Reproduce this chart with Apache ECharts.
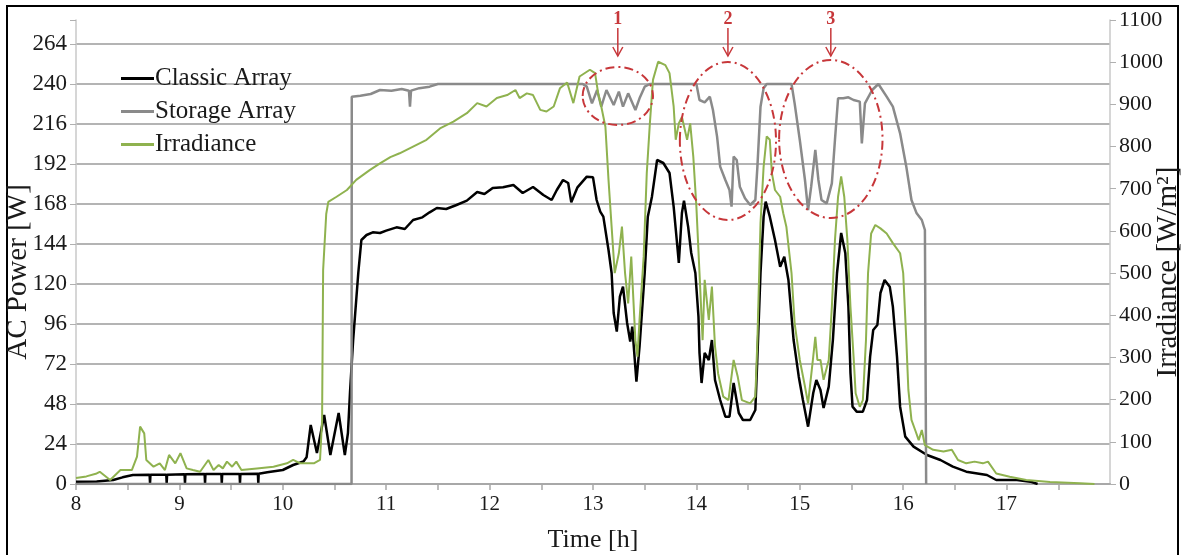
<!DOCTYPE html>
<html lang="en">
<head>
<meta charset="utf-8">
<title>AC Power / Irradiance</title>
<style>
  *{padding:0;margin:0;}
  html,body{width:100%;height:100%;background:#fff;}
  #chart{width:1184px;height:555px;}
</style>
</head>
<body>
<div id="chart"></div>
<script src="https://cdn.jsdelivr.net/npm/echarts@6/dist/echarts.min.js"></script>
<script>
// time [h] and AC power [W] of the classic array
var classicT = [8.00,8.20,8.36,8.45,8.55,8.712,8.716,8.720,8.873,8.877,8.881,9.050,9.054,9.058,9.244,9.248,9.252,9.406,9.410,9.414,9.582,9.586,9.590,9.759,9.763,9.767,9.85,10.0,10.1,10.2,10.23,10.27,10.33,10.40,10.46,10.54,10.60,10.63,10.65,10.68,10.73,10.76,10.81,10.87,10.94,11.0,11.1,11.18,11.26,11.35,11.42,11.49,11.58,11.68,11.78,11.88,11.95,12.03,12.13,12.23,12.32,12.42,12.52,12.60,12.65,12.71,12.76,12.79,12.85,12.94,13.0,13.035,13.07,13.1,13.15,13.18,13.2,13.23,13.26,13.29,13.33,13.36,13.38,13.42,13.45,13.5,13.53,13.57,13.62,13.68,13.74,13.78,13.81,13.83,13.86,13.88,13.92,13.95,13.99,14.02,14.03,14.05,14.08,14.12,14.15,14.18,14.23,14.28,14.32,14.36,14.41,14.45,14.52,14.57,14.59,14.62,14.65,14.67,14.71,14.76,14.81,14.85,14.89,14.94,14.99,15.03,15.08,15.13,15.16,15.2,15.23,15.28,15.32,15.36,15.4,15.44,15.47,15.49,15.51,15.55,15.61,15.65,15.68,15.71,15.75,15.78,15.82,15.87,15.9,15.94,15.97,16.02,16.1,16.23,16.36,16.48,16.61,16.81,16.9,17.1,17.23,17.3];
var classicW = [1.4,1.5,2.4,4.0,5.4,5.5,0.5,5.5,5.6,0.5,5.6,5.8,0.5,5.8,6.0,0.5,6.0,6.0,0.5,6.0,6.0,0.5,6.0,6.2,0.5,6.2,7.0,8.4,11.4,13.5,16,35.4,18.6,41.4,17.4,42.6,17.4,30.6,55,86,126.6,146.4,149.4,151,150.6,152,154,153,158.4,160,163,165.6,165,167.4,170,175.2,174,177.6,178,179.4,174.6,178.2,173.4,170.4,176.4,182.4,180.6,169,178,184.4,184,170.4,163.4,160.4,140.4,126.6,102.6,91.4,112.4,118.4,96.6,85.4,94.4,61.4,82.4,126.6,160.4,172.4,194.4,192.6,186.6,166.4,146.4,132.6,162.6,170,154.4,138.6,126.6,100.4,78.6,60.6,78.6,74.4,86.4,62.4,50.4,40.4,40.4,60.6,42.6,38.4,38.4,44.4,76.4,126.6,160.4,169.4,160.4,146.4,130.4,136.4,122.4,86.4,64.4,50.4,34.4,54.6,62.4,56.4,45.6,58.4,86.4,126.6,150.6,138.6,106.4,66.6,46.4,43.4,43.4,50.4,76.4,92.4,95.4,114.6,122.4,118.4,106.4,76.4,46.4,28.4,22.4,17.4,14.4,10.4,7.4,5.4,2.4,2.4,1.4,0];

// time [h] and AC power [W] of the storage array
var storageT = [8.0,10.665,10.667,10.75,10.85,10.94,11.05,11.15,11.22,11.23,11.24,11.32,11.42,11.5,12.9,12.94,12.99,13.04,13.08,13.13,13.2,13.25,13.29,13.34,13.41,13.45,13.5,13.55,14.0,14.03,14.08,14.13,14.16,14.2,14.23,14.28,14.32,14.34,14.36,14.39,14.42,14.47,14.52,14.57,14.59,14.62,14.65,14.68,14.92,14.95,15.0,15.05,15.08,15.11,15.15,15.18,15.21,15.26,15.31,15.34,15.37,15.42,15.47,15.52,15.58,15.6,15.63,15.7,15.76,15.84,15.9,15.97,16.03,16.08,16.13,16.18,16.21,16.222];
var storageW = [0,0,232.4,233,234,236.4,236,237,236,226.4,236,237.5,238.4,240,240,238.4,228.4,236.4,226.4,236.4,227.4,235.4,226.4,234.4,224.4,231.4,238.4,240,240,230.4,229,232.4,224.4,208.4,190.4,182.4,176.4,166.4,196.4,194.4,178.4,171.4,167.4,170.4,190.4,226.4,237.4,240,240,228.4,206.4,182.4,164.4,178.4,200.4,182.4,170.4,168.4,180.4,206.4,231.4,231.4,232,230.4,229.4,204.4,228.4,236.4,240,232.4,226.4,210.4,190.4,170.4,162.4,158.4,152.4,0];

// time [h] and irradiance [W/m²]
var irrT = [8.0,8.1,8.2,8.23,8.33,8.43,8.54,8.59,8.62,8.66,8.68,8.75,8.81,8.86,8.9,8.96,9.01,9.07,9.13,9.2,9.28,9.33,9.38,9.42,9.46,9.51,9.55,9.6,9.75,9.91,10.04,10.1,10.17,10.3,10.36,10.38,10.39,10.42,10.44,10.52,10.62,10.71,10.84,10.94,11.04,11.13,11.26,11.39,11.52,11.65,11.78,11.88,11.97,12.07,12.17,12.25,12.29,12.36,12.42,12.49,12.55,12.62,12.68,12.75,12.81,12.87,12.97,13.02,13.05,13.08,13.12,13.15,13.18,13.21,13.25,13.28,13.31,13.34,13.37,13.41,13.43,13.45,13.49,13.52,13.55,13.58,13.63,13.7,13.74,13.78,13.8,13.83,13.86,13.91,13.94,13.97,14.0,14.03,14.06,14.08,14.12,14.15,14.18,14.21,14.26,14.31,14.36,14.4,14.44,14.52,14.57,14.59,14.62,14.65,14.68,14.71,14.73,14.76,14.81,14.84,14.87,14.92,14.95,15.0,15.05,15.08,15.13,15.15,15.17,15.2,15.23,15.28,15.31,15.34,15.37,15.4,15.43,15.46,15.49,15.52,15.54,15.58,15.61,15.64,15.66,15.69,15.73,15.78,15.84,15.9,15.97,16.0,16.03,16.05,16.08,16.12,16.15,16.18,16.21,16.29,16.39,16.47,16.53,16.61,16.69,16.77,16.82,16.9,17.03,17.19,17.42,17.71,17.85];
var irrV = [14,18,25,29,9.5,33,33,65,136,120,57,41,49,33,69,49,73,37,33,29,57,33,45,37,53,41,53,33,37,41,49,57,49,49,57,152,507,640,669,681,697,721,744,760,775,784,800,816,843,859,879,903,895,915,922,934,915,926,922,887,883,895,938,952,903,966,982,974,926,895,847,721,610,500,547,610,500,428,539,341,302,389,539,737,855,958,1001,993,974,895,816,855,870,816,855,776,657,500,341,484,389,468,326,262,207,199,294,254,199,191,207,341,618,752,824,816,737,697,681,642,610,500,381,294,231,191,302,349,294,294,247,294,420,578,681,729,681,578,420,302,215,183,199,341,500,594,614,606,594,571,547,500,341,223,152,125,104,128,92,81,77,81,57,49,53,49,53,25,17,9.5,5,2,0];

// hour tick labels on the time axis
var hourLabels = ['8','9','10','11','12','13','14','15','16','17'];

// red call-outs: label, centre (h, W), half size (h, W)
var noteLabels = ['1','2','3'];
var noteT = [13.24, 14.305, 15.30];
var noteW = [232.8, 205.8, 207];
var noteRT = [0.34, 0.465, 0.50];
var noteRW = [17.4, 47.4, 47.4];

function pairs(t, v) {
    var res = [];
    for (var i = 0; i < t.length; i++) res.push([t[i], v[i]]);
    return res;
}

var serif = 'Liberation Serif';
var txt = '#1a1a1a';
var chart = echarts.init(document.getElementById('chart'));

var option = {
    backgroundColor: '#fff',
    animation: false,
    grid: {left: 76, right: 74, top: 20, bottom: 71, containLabel: false, outerBoundsMode: 'none'},
    legend: {
        orient: 'vertical',
        left: 116,
        top: 61,
        itemGap: 8,
        itemWidth: 33,
        itemHeight: 3,
        icon: 'rect',
        textStyle: {fontFamily: serif, fontSize: 25, color: txt, padding: [0, 0, 0, -4]},
        data: ['Classic Array', 'Storage Array', 'Irradiance']
    },
    xAxis: {
        type: 'value',
        min: 8, max: 18, interval: 0.5,
        name: 'Time [h]',
        nameLocation: 'middle',
        nameGap: 43,
        nameMoveOverlap: false,
        nameTextStyle: {fontFamily: serif, fontSize: 26, color: txt},
        axisLine: {lineStyle: {color: '#a8a8a8', width: 2}},
        axisTick: {show: true, length: 6, lineStyle: {color: '#a8a8a8', width: 1.5}},
        axisLabel: {
            fontFamily: serif, fontSize: 21, color: txt, margin: 10,
            showMaxLabel: false,
            formatter: function (v) {
                var i = hourLabels.indexOf(String(v));
                return i >= 0 ? hourLabels[i] : '';
            }
        },
        splitLine: {show: false}
    },
    yAxis: [{
        type: 'value',
        min: 0, max: 278.4, interval: 24,
        name: 'AC Power [W]',
        nameLocation: 'middle',
        nameGap: 43,
        nameMoveOverlap: false,
        nameTextStyle: {fontFamily: serif, fontSize: 29, color: txt, padding: [0, 40, 0, 0]},
        axisLine: {show: true, lineStyle: {color: '#c8c8c8', width: 1.5}},
        axisTick: {show: true, length: 6, lineStyle: {color: '#b0b0b0'}},
        axisLabel: {
            fontFamily: serif, fontSize: 23, color: txt, margin: 9,
            formatter: function (v) { return v % 24 === 0 ? String(v) : ''; }
        },
        splitLine: {show: true, showMaxLine: false, lineStyle: {color: '#b4b4b4', width: 2}}
    }, {
        type: 'value',
        min: 0, max: 1100, interval: 100,
        name: 'Irradiance [W/m²]',
        nameLocation: 'middle',
        nameGap: 44,
        nameMoveOverlap: false,
        nameTextStyle: {fontFamily: serif, fontSize: 29, color: txt, padding: [0, 40, 0, 0]},
        axisLine: {show: true, lineStyle: {color: '#c8c8c8', width: 1.5}},
        axisTick: {show: true, length: 6, lineStyle: {color: '#b0b0b0'}},
        axisLabel: {
            fontFamily: serif, fontSize: 22, color: txt, margin: 9,
            formatter: function (v) { return String(v); }
        },
        splitLine: {show: false}
    }],
    series: [{
        name: 'Classic Array',
        type: 'line',
        showSymbol: false,
        symbol: 'none',
        yAxisIndex: 0,
        data: pairs(classicT, classicW),
        itemStyle: {color: '#000'},
        lineStyle: {color: '#000', width: 2.5}
    }, {
        name: 'Storage Array',
        type: 'line',
        showSymbol: false,
        symbol: 'none',
        yAxisIndex: 0,
        data: pairs(storageT, storageW),
        itemStyle: {color: '#8a8a8a'},
        lineStyle: {color: '#8a8a8a', width: 2.5}
    }, {
        name: 'Irradiance',
        type: 'line',
        showSymbol: false,
        symbol: 'none',
        yAxisIndex: 1,
        data: pairs(irrT, irrV),
        itemStyle: {color: '#8fb24f'},
        lineStyle: {color: '#8fb24f', width: 2}
    }]
};
chart.setOption(option);

// frame and red call-outs, placed through the axes
var finder = {xAxisIndex: 0, yAxisIndex: 0};
var red = '#c7373a';
var plotTop = chart.convertToPixel(finder, [8, 278.4])[1];
var graphics = [{
    type: 'rect',
    shape: {x: 7, y: 6, width: 1171, height: 570},
    style: {fill: 'none', stroke: '#000', lineWidth: 2},
    silent: true
}];
for (var i = 0; i < noteLabels.length; i++) {
    var c = chart.convertToPixel(finder, [noteT[i], noteW[i]]);
    var e = chart.convertToPixel(finder, [noteT[i] + noteRT[i], noteW[i] + noteRW[i]]);
    var rx = e[0] - c[0], ry = c[1] - e[1];
    var tip = plotTop + 36;
    graphics.push({
        type: 'ellipse',
        shape: {cx: c[0], cy: c[1], rx: rx, ry: ry},
        style: {fill: 'none', stroke: red, lineWidth: 2, lineDash: [9, 4, 2, 4]},
        z: 100, silent: true
    });
    graphics.push({
        type: 'line',
        shape: {x1: c[0], y1: tip - 28, x2: c[0], y2: tip},
        style: {stroke: red, lineWidth: 1.5},
        z: 100, silent: true
    });
    graphics.push({
        type: 'polyline',
        shape: {points: [[c[0] - 5, tip - 9], [c[0], tip], [c[0] + 5, tip - 9]]},
        style: {stroke: red, lineWidth: 1.5, fill: 'none'},
        z: 100, silent: true
    });
    graphics.push({
        type: 'text',
        style: {
            x: c[0], y: tip - 28, text: noteLabels[i],
            fill: red, font: 'bold 18px "Liberation Serif"',
            align: 'center', verticalAlign: 'bottom'
        },
        z: 100, silent: true
    });
}
chart.setOption({graphic: graphics});
</script>
</body>
</html>
